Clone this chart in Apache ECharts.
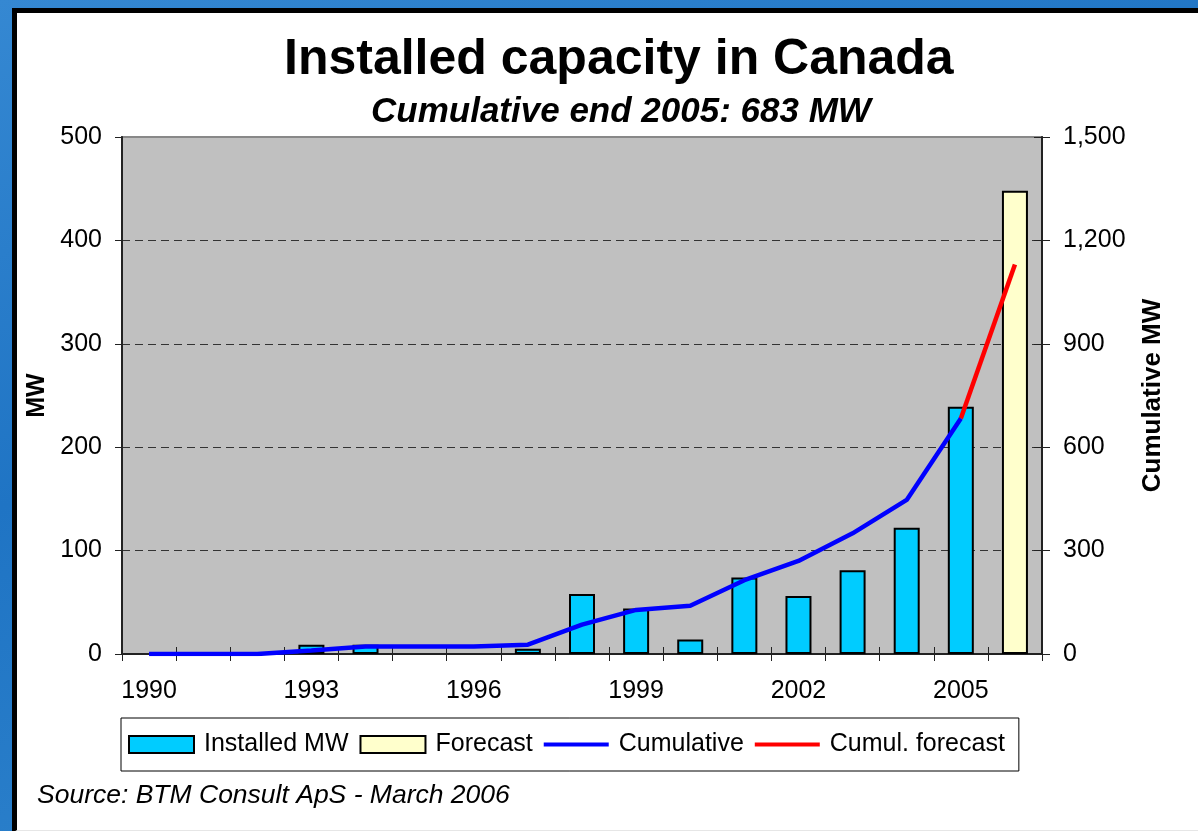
<!DOCTYPE html>
<html>
<head>
<meta charset="utf-8">
<script src="https://cdn.jsdelivr.net/npm/echarts@6/dist/echarts.min.js"></script>
<style>
  html, body { margin: 0; padding: 0; width: 1198px; height: 831px; overflow: hidden;
    background: linear-gradient(160deg, #3588d2 0%, #1f74c4 40%, #2a7fca 70%, #3f93d8 100%); }
  #panel { position: absolute; left: 12px; top: 8px; width: 1181px; height: 817px;
    background: #ffffff; border-left: 5px solid #000; border-top: 5px solid #000; border-bottom: 3px solid #e6e6e6; }
  #chart { position: absolute; left: 0; top: 0; width: 1198px; height: 831px; }
</style>
</head>
<body>
<div id="panel"></div>
<div id="chart"></div>
<script>
// ---- data ----
const years = ['1990','1991','1992','1993','1994','1995','1996','1997','1998','1999','2000','2001','2002','2003','2004','2005','2006'];
const installedMW = [null, null, null, 9, 9, null, null, 5, 58, 44, 14, 74, 56, 81, 122, 239, null];
const forecastMW  = [null, null, null, null, null, null, null, null, null, null, null, null, null, null, null, null, 448];
const cumulativeMW = [0, 0, 0, 10, 22, 22, 22, 27, 85, 128, 140, 214, 270, 350, 447, 683, null];
const cumulForecastMW = [null, null, null, null, null, null, null, null, null, null, null, null, null, null, null, 683, 1130];
const leftTicks = { min: 0, max: 500, interval: 100 };
const rightTicks = { min: 0, max: 1500, interval: 300 };
const titleText = 'Installed capacity in Canada';
const subtitleText = 'Cumulative end 2005: 683 MW';
const sourceText = 'Source: BTM Consult ApS - March 2006';

const FONT = "'Liberation Sans', Arial, Helvetica, sans-serif";
const chart = echarts.init(document.getElementById('chart'), null, { renderer: 'canvas' });

const gridRect = { left: 122, right: 156, top: 137, bottom: 177 };
// thin horizontal bar inside a 65x17 box, used as legend icon for the lines
const lineIcon = 'path://M0,0 M65,17 M0,6.5 L65,6.5 L65,10.5 L0,10.5 Z';

const option = {
  animation: false,
  textStyle: { fontFamily: FONT, color: '#000' },
  title: [
    { text: titleText, left: 284, top: 35, padding: 0,
      textStyle: { fontFamily: FONT, fontSize: 50, fontWeight: 'bold', color: '#000', lineHeight: 50 } },
    { text: subtitleText, left: 371, top: 95, padding: 0,
      textStyle: { fontFamily: FONT, fontSize: 35, fontWeight: 'bold', fontStyle: 'italic', color: '#000', lineHeight: 35 } },
    { text: sourceText, left: 37, top: 783, padding: 0,
      textStyle: { fontFamily: FONT, fontSize: 26.5, fontWeight: 'normal', fontStyle: 'italic', color: '#000', lineHeight: 26 } }
  ],
  legend: {
    left: 121, top: 718,
    padding: [14, 14, 14, 7],
    backgroundColor: '#fff',
    borderColor: '#000', borderWidth: 1,
    itemWidth: 65, itemHeight: 17, itemGap: 11,
    textStyle: { fontFamily: FONT, fontSize: 25, color: '#000', padding: [0, 0, 0, 5] },
    data: [
      { name: 'Installed MW', icon: 'rect' },
      { name: 'Forecast', icon: 'rect' },
      { name: 'Cumulative', icon: lineIcon, itemStyle: { borderWidth: 0 } },
      { name: 'Cumul. forecast', icon: lineIcon, itemStyle: { borderWidth: 0 } }
    ]
  },
  grid: [
    Object.assign({ show: true, backgroundColor: '#c0c0c0', borderColor: '#888', borderWidth: 2 }, gridRect),
    Object.assign({ show: false }, gridRect)
  ],
  xAxis: [
    { type: 'category', data: years, gridIndex: 0, boundaryGap: true,
      axisLine: { show: true, lineStyle: { color: '#222', width: 2 } },
      axisTick: { show: true, inside: false, length: 7, interval: 0, lineStyle: { color: '#222', width: 1 } },
      axisLabel: { interval: 2, margin: 25, fontSize: 25, color: '#000', fontFamily: FONT },
      splitLine: { show: false } },
    { type: 'category', data: years, gridIndex: 1, boundaryGap: true,
      axisLine: { show: false },
      axisTick: { show: true, inside: true, length: 7, interval: 0, lineStyle: { color: '#222', width: 1 } },
      axisLabel: { show: false }, splitLine: { show: false } }
  ],
  yAxis: [
    { type: 'value', gridIndex: 0, position: 'left', min: leftTicks.min, max: leftTicks.max, interval: leftTicks.interval,
      name: 'MW', nameLocation: 'middle', nameGap: 70, nameRotate: 90,
      nameTextStyle: { fontFamily: FONT, fontSize: 25, fontWeight: 'bold', color: '#000' },
      axisLine: { show: true, lineStyle: { color: '#222', width: 2 } },
      axisTick: { show: true, inside: false, length: 7, lineStyle: { color: '#222', width: 1 } },
      axisLabel: { margin: 20, fontSize: 25, color: '#000', fontFamily: FONT },
      splitLine: { show: true, showMinLine: false, showMaxLine: false, lineStyle: { color: '#333', width: 1, type: [8, 5] } } },
    { type: 'value', gridIndex: 0, position: 'right', min: rightTicks.min, max: rightTicks.max, interval: rightTicks.interval,
      name: 'Cumulative MW', nameLocation: 'middle', nameGap: 98, nameRotate: 90,
      nameTextStyle: { fontFamily: FONT, fontSize: 26, fontWeight: 'bold', color: '#000' },
      axisLine: { show: true, lineStyle: { color: '#222', width: 2 } },
      axisTick: { show: true, inside: false, length: 8, lineStyle: { color: '#222', width: 1 } },
      axisLabel: { margin: 21, fontSize: 25, color: '#000', fontFamily: FONT,
        formatter: v => v.toString().replace(/\B(?=(\d{3})+(?!\d))/g, ',') },
      splitLine: { show: false } },
    { type: 'value', gridIndex: 1, position: 'right', min: rightTicks.min, max: rightTicks.max, interval: rightTicks.interval,
      axisLine: { show: false },
      axisTick: { show: true, inside: true, length: 8, lineStyle: { color: '#222', width: 1 } },
      axisLabel: { show: false }, splitLine: { show: false } }
  ],
  series: [
    { name: 'Installed MW', type: 'bar', xAxisIndex: 0, yAxisIndex: 0, data: installedMW,
      barWidth: 26, barGap: '-100%',
      itemStyle: { color: '#00ccff', borderColor: '#000', borderWidth: 2 } },
    { name: 'Forecast', type: 'bar', xAxisIndex: 0, yAxisIndex: 0, data: forecastMW,
      barWidth: 26, barGap: '-100%',
      itemStyle: { color: '#ffffcc', borderColor: '#000', borderWidth: 2 } },
    { name: 'Cumulative', type: 'line', xAxisIndex: 0, yAxisIndex: 1, data: cumulativeMW,
      symbol: 'none', showSymbol: false, z: 5,
      lineStyle: { color: '#0000ff', width: 4.5 }, itemStyle: { color: '#0000ff' } },
    { name: 'Cumul. forecast', type: 'line', xAxisIndex: 0, yAxisIndex: 1, data: cumulForecastMW,
      symbol: 'none', showSymbol: false, z: 4,
      lineStyle: { color: '#ff0000', width: 4.5 }, itemStyle: { color: '#ff0000' } }
  ]
};
chart.setOption(option);
</script>
</body>
</html>
